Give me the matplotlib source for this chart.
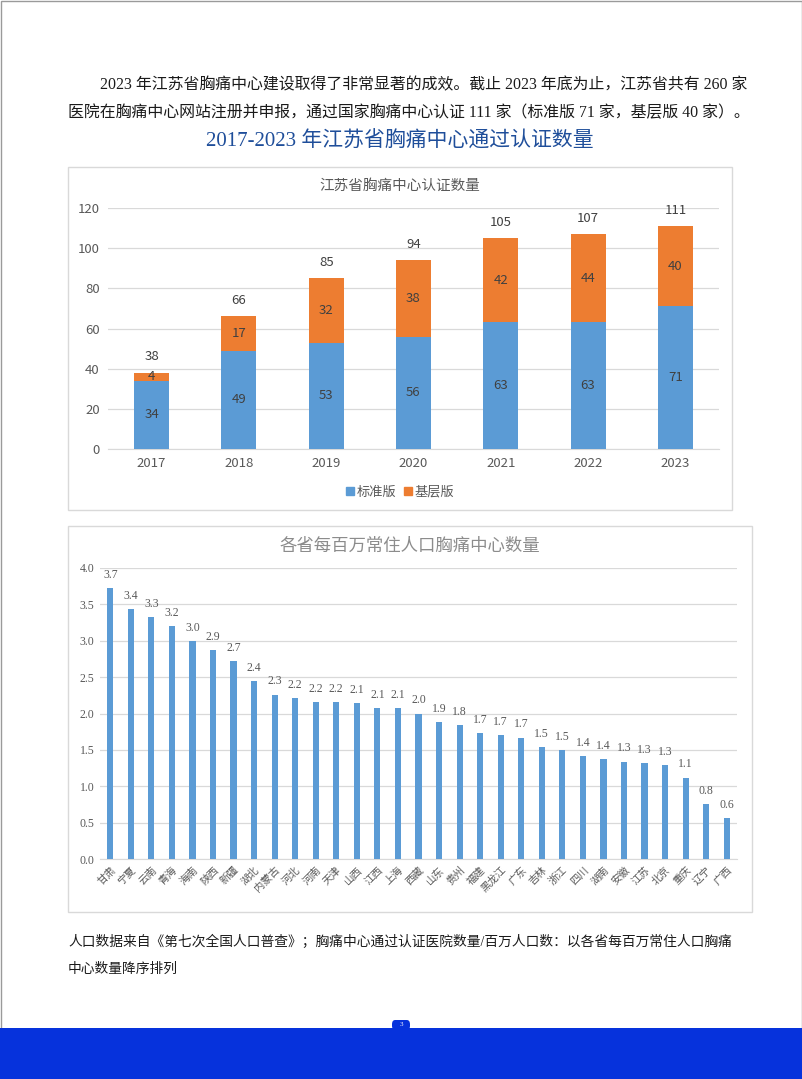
import matplotlib
matplotlib.use('Agg')
import matplotlib.pyplot as plt
from matplotlib.patches import Rectangle, FancyBboxPatch, Patch

plt.rcParams['font.family'] = ['Noto Sans CJK SC', 'DejaVu Sans']

W, H = 802, 1079
SERIF = ['Liberation Serif', 'Noto Sans CJK SC']

# chart 1 data
years = ['2017', '2018', '2019', '2020', '2021', '2022', '2023']
standard = [34, 49, 53, 56, 63, 63, 71]
basic = [4, 17, 32, 38, 42, 44, 40]

# chart 2 data
provinces = ['甘肃', '宁夏', '云南', '青海', '海南', '陕西', '新疆', '湖北', '内蒙古', '河北',
             '河南', '天津', '山西', '江西', '上海', '西藏', '山东', '贵州', '福建', '黑龙江',
             '广东', '吉林', '浙江', '四川', '湖南', '安徽', '江苏', '北京', '重庆', '辽宁', '广西']
per_million = [3.72, 3.43, 3.32, 3.20, 3.00, 2.87, 2.72, 2.44, 2.26, 2.21,
               2.16, 2.16, 2.14, 2.08, 2.08, 2.00, 1.88, 1.84, 1.73, 1.71,
               1.67, 1.54, 1.50, 1.42, 1.38, 1.34, 1.32, 1.29, 1.12, 0.76, 0.56]

BLUE = '#5B9BD5'
ORANGE = '#ED7D31'
GRID = '#D9D9D9'
TXT = '#595959'


def fx(px):
    return px / W


def fy(py):
    return 1 - py / H


def box(x0, y0, x1, y1, **kw):
    fig.patches.append(Rectangle((fx(x0), fy(y1)), (x1 - x0) / W, (y1 - y0) / H,
                                 transform=fig.transFigure, **kw))


fig = plt.figure(figsize=(W / 100, H / 100), dpi=100)
fig.patch.set_facecolor('white')

# page border and bottom band
box(0.5, 0.5, W - 0.5, H - 0.5, fill=False, edgecolor='#9A9A9A', linewidth=1)
box(0, 1028, W, H, facecolor='#0632DC', edgecolor='none')
fig.patches.append(FancyBboxPatch((fx(392), fy(1030)), 18 / W, 10 / H,
                                  boxstyle='round,pad=0,rounding_size=0.004',
                                  transform=fig.transFigure, facecolor='#0632DC', edgecolor='none'))
fig.text(fx(401), fy(1024), '3', color='white', fontsize=5, ha='center', va='center', family=SERIF)

# paragraph
fig.text(fx(100), fy(85), '2023 年江苏省胸痛中心建设取得了非常显著的成效。截止 2023 年底为止，江苏省共有 260 家',
         fontsize=11.45, ha='left', va='center', color='#1A1A1A', family=SERIF)
fig.text(fx(68), fy(113), '医院在胸痛中心网站注册并申报，通过国家胸痛中心认证 111 家（标准版 71 家，基层版 40 家）。',
         fontsize=11.45, ha='left', va='center', color='#1A1A1A', family=SERIF)
fig.text(fx(400), fy(142), '2017-2023 年江苏省胸痛中心通过认证数量', fontsize=15,
         ha='center', va='center', color='#1F4E9A', family=SERIF)

# ---- chart 1 ----
box(68, 167, 732, 510, fill=False, edgecolor=GRID, linewidth=1)
fig.text(fx(400), fy(186), '江苏省胸痛中心认证数量', fontsize=10.5, ha='center', va='center', color=TXT)

ax1 = fig.add_axes([fx(108), fy(449), 611 / W, 241 / H])
x = range(len(years))
ax1.bar(x, standard, width=0.4, color=BLUE, zorder=3, label='标准版')
ax1.bar(x, basic, width=0.4, bottom=standard, color=ORANGE, zorder=3, label='基层版')
for i, (s, b) in enumerate(zip(standard, basic)):
    ax1.text(i, s / 2, str(s), ha='center', va='center', fontsize=9.5, color='#404040', zorder=4)
    ax1.text(i, s + b / 2, str(b), ha='center', va='center', fontsize=9.5, color='#404040', zorder=4)
    ax1.text(i, s + b + 8, str(s + b), ha='center', va='center', fontsize=9.5, color='#404040')
ax1.set_xlim(-0.5, 6.5)
ax1.set_ylim(0, 120)
ax1.set_yticks(range(0, 121, 20))
ax1.set_xticks(list(x))
ax1.set_xticklabels(years)
ax1.grid(axis='y', color=GRID, linewidth=0.9, zorder=0)
for side in ['top', 'right', 'left']:
    ax1.spines[side].set_visible(False)
ax1.spines['bottom'].set_color(GRID)
ax1.tick_params(length=0, labelsize=9.5, colors=TXT, pad=6)

fig.legend(handles=[Patch(color=BLUE, label='标准版'), Patch(color=ORANGE, label='基层版')],
           loc='center', bbox_to_anchor=(fx(400), fy(492)), ncol=2, frameon=False,
           handlelength=0.6, handleheight=0.6, handletextpad=0.2, columnspacing=0.6,
           fontsize=9.5, labelcolor=TXT)

# ---- chart 2 ----
box(68, 526, 752, 912, fill=False, edgecolor=GRID, linewidth=1)
fig.text(fx(410), fy(546), '各省每百万常住人口胸痛中心数量', fontsize=12.5, ha='center', va='center',
         color='#8C8C8C')

ax2 = fig.add_axes([fx(100), fy(859), 637 / W, 291 / H])
x2 = range(len(provinces))
ax2.bar(x2, per_million, width=0.3, color=BLUE, zorder=3)
for i, v in enumerate(per_million):
    ax2.text(i, v + 0.18, f'{v:.1f}', ha='center', va='center', fontsize=8.5, color=TXT, family=SERIF)
ax2.set_xlim(-0.5, len(provinces) - 0.5)
ax2.set_ylim(0, 4)
ax2.set_yticks([i * 0.5 for i in range(9)])
ax2.set_yticklabels([f'{i * 0.5:.1f}' for i in range(9)], family=SERIF)
ax2.set_xticks(list(x2))
ax2.set_xticklabels(provinces, rotation=45, ha='right', rotation_mode='anchor', fontsize=7.5)
ax2.grid(axis='y', color=GRID, linewidth=0.9, zorder=0)
for side in ['top', 'right', 'left']:
    ax2.spines[side].set_visible(False)
ax2.spines['bottom'].set_color(GRID)
ax2.tick_params(length=0, colors=TXT, pad=4)
ax2.tick_params(axis='y', labelsize=8.5)

# footnote
fig.text(fx(68), fy(942), '人口数据来自《第七次全国人口普查》；胸痛中心通过认证医院数量/百万人口数：以各省每百万常住人口胸痛',
         fontsize=9.9, ha='left', va='center', color='#1A1A1A', family=SERIF)
fig.text(fx(68), fy(969), '中心数量降序排列', fontsize=9.9, ha='left', va='center', color='#1A1A1A', family=SERIF)

fig.savefig('out.png', dpi=100)
